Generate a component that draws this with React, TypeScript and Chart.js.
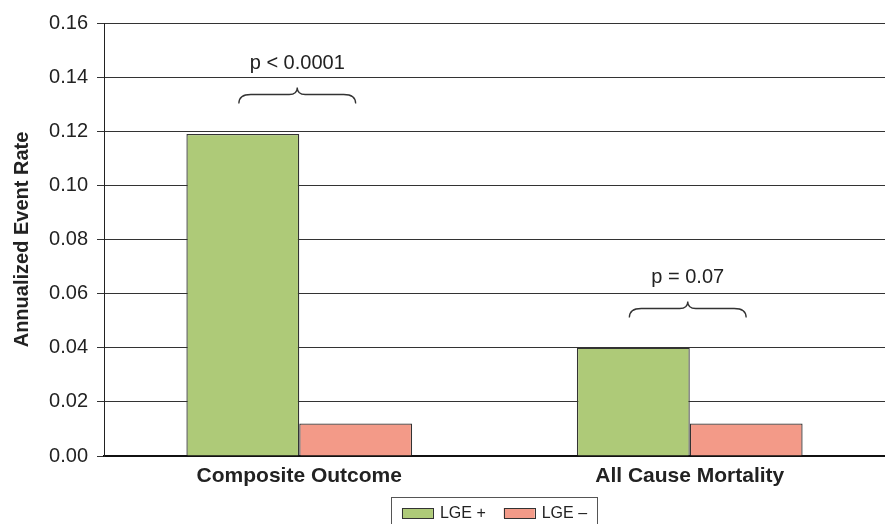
import React, { useEffect, useRef } from "react";
import { Chart, registerables } from "chart.js";

Chart.register(...registerables);

// Outcome categories and annualized event rates per LGE group
const categories = ["Composite Outcome", "All Cause Mortality"];
const lgePositive = [0.119, 0.04];
const lgeNegative = [0.012, 0.012];
const seriesLabels = ["LGE +", "LGE –"];
const pValueLabels = ["p < 0.0001", "p = 0.07"];
const yTicks = [0, 0.02, 0.04, 0.06, 0.08, 0.1, 0.12, 0.14, 0.16];

const FONT = "'Liberation Sans', Arial, Helvetica, sans-serif";
const TEXT = "#222222";
const GREEN = "#aeca78";
const RED = "#f39a88";

// Curly brace over each pair of bars with its p value
const bracePlugin = {
  id: "pBraces",
  afterDatasetsDraw(chart: any) {
    const { ctx } = chart;
    const m0 = chart.getDatasetMeta(0).data;
    const m1 = chart.getDatasetMeta(1).data;
    categories.forEach((_, i) => {
      const a = m0[i];
      const b = m1[i];
      if (!a || !b) return;
      const x1 = a.x - 4;
      const x2 = b.x;
      const xm = (x1 + x2) / 2;
      const y = Math.round(Math.min(a.y, b.y) - 40) + 0.5;
      ctx.save();
      ctx.strokeStyle = "#333";
      ctx.lineWidth = 1.3;
      ctx.beginPath();
      ctx.moveTo(x1, y + 9);
      ctx.quadraticCurveTo(x1, y, x1 + 12, y);
      ctx.lineTo(xm - 8, y);
      ctx.quadraticCurveTo(xm, y, xm, y - 7);
      ctx.quadraticCurveTo(xm, y, xm + 8, y);
      ctx.lineTo(x2 - 12, y);
      ctx.quadraticCurveTo(x2, y, x2, y + 9);
      ctx.stroke();
      ctx.fillStyle = TEXT;
      ctx.font = `20px ${FONT}`;
      ctx.textAlign = "center";
      ctx.textBaseline = "middle";
      ctx.fillText(pValueLabels[i], xm, y - 31);
      ctx.restore();
    });
  },
};

// Boxed legend centred under the plot area
const legendBoxPlugin = {
  id: "legendBox",
  afterDraw(chart: any) {
    const { ctx, chartArea } = chart;
    const cx = (chartArea.left + chartArea.right) / 2;
    const top = chartArea.bottom + 41;
    const sw = 31;
    const sh = 10;
    const gap = 7;
    const itemGap = 18;
    ctx.save();
    ctx.font = `16px ${FONT}`;
    const widths = chart.data.datasets.map((d: any) => ctx.measureText(d.label).width);
    const total =
      widths.reduce((s: number, w: number) => s + w + sw + gap, 0) + itemGap * (widths.length - 1);
    const boxW = total + 21;
    ctx.strokeStyle = "#555";
    ctx.lineWidth = 1;
    ctx.strokeRect(Math.round(cx - boxW / 2) + 0.5, top + 0.5, Math.round(boxW), 60);
    let x = cx - total / 2;
    const cy = top + 16;
    chart.data.datasets.forEach((d: any, i: number) => {
      ctx.fillStyle = d.backgroundColor;
      ctx.fillRect(x, cy - sh / 2, sw, sh);
      ctx.strokeStyle = "#333";
      ctx.strokeRect(Math.round(x) + 0.5, Math.round(cy - sh / 2) + 0.5, sw, sh);
      ctx.fillStyle = TEXT;
      ctx.textAlign = "left";
      ctx.textBaseline = "middle";
      ctx.fillText(d.label, x + sw + gap, cy + 1);
      x += sw + gap + widths[i] + itemGap;
    });
    ctx.restore();
  },
};

export default function App() {
  const ref = useRef<HTMLCanvasElement>(null);

  useEffect(() => {
    if (!ref.current) return;
    const chart = new Chart(ref.current, {
      type: "bar",
      data: {
        labels: categories,
        datasets: [
          {
            label: seriesLabels[0],
            data: lgePositive,
            backgroundColor: GREEN,
            borderColor: "#333",
            borderWidth: 1.3,
          },
          {
            label: seriesLabels[1],
            data: lgeNegative,
            backgroundColor: RED,
            borderColor: "#333",
            borderWidth: 1.3,
          },
        ],
      },
      options: {
        responsive: false,
        animation: false,
        layout: { padding: { top: 23, right: 0, bottom: 0, left: 0 } },
        plugins: {
          legend: { display: false },
          tooltip: { enabled: false },
        },
        datasets: {
          bar: { categoryPercentage: 0.578, barPercentage: 1 },
        },
        scales: {
          x: {
            grid: { display: false, drawTicks: false },
            border: { display: true, color: "#111", width: 2 },
            ticks: {
              color: TEXT,
              padding: 8,
              font: { family: FONT, size: 21, weight: "bold" },
            },
            afterFit(scale: any) {
              scale.height = 68;
            },
          },
          y: {
            min: 0,
            max: 0.16,
            afterBuildTicks(scale: any) {
              scale.ticks = yTicks.map((v) => ({ value: v }));
            },
            grid: {
              color: "#333",
              lineWidth: 1,
              drawTicks: true,
              tickLength: 7,
            },
            border: { display: true, color: "#222", width: 1 },
            ticks: {
              color: TEXT,
              padding: 9,
              font: { family: FONT, size: 20 },
              callback: (v: any) => Number(v).toFixed(2),
            },
            title: {
              display: true,
              text: "Annualized Event Rate",
              color: TEXT,
              padding: { top: 10, bottom: 0 },
              font: { family: FONT, size: 20, weight: "bold" },
            },
            afterFit(scale: any) {
              scale.width = 104;
            },
          },
        },
      },
      plugins: [bracePlugin, legendBoxPlugin],
    });
    return () => chart.destroy();
  }, []);

  return (
    <div style={{ position: "absolute", left: 0, top: 0, width: 885, height: 524, background: "#fff" }}>
      <canvas ref={ref} width={885} height={524} />
    </div>
  );
}
